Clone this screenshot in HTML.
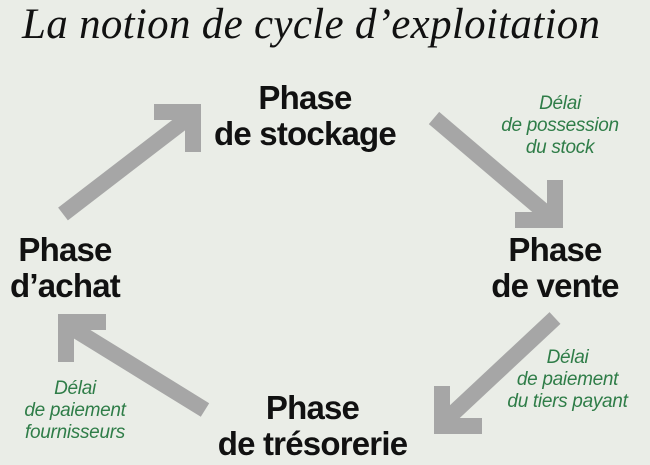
<!DOCTYPE html>
<html><head><meta charset="utf-8"><style>
html,body{margin:0;padding:0}
body{width:650px;height:465px;background:#eaede7;overflow:hidden;position:relative}
.t{position:absolute;left:22px;top:0px;font:italic 43px "Liberation Serif",serif;color:#111;letter-spacing:0.3px;white-space:nowrap}
.b{position:absolute;font:bold 33px/36px "Liberation Sans",sans-serif;color:#111;text-align:center;white-space:nowrap;letter-spacing:-0.8px}
.g{position:absolute;font:italic 19px/22px "Liberation Sans",sans-serif;color:#2f7d48;text-align:center;white-space:nowrap;letter-spacing:-0.3px}
</style></head><body>
<svg width="650" height="465" style="position:absolute;left:0;top:0">
<g fill="none" stroke="#a6a6a6" stroke-width="16" stroke-linejoin="miter" stroke-linecap="butt">
<line x1="63" y1="214" x2="188" y2="118"/><polyline points="154,112 193,112 193,152"/>
<line x1="434" y1="118" x2="547" y2="214"/><polyline points="555,180 555,220 515,220"/>
<line x1="555" y1="318" x2="448" y2="418"/><polyline points="482,426 442,426 442,386"/>
<line x1="205" y1="410" x2="72" y2="328"/><polyline points="66,362 66,322 106,322"/>
</g></svg>
<div class="t">La notion de cycle d’exploitation</div>
<div class="b" style="left:205px;width:200px;top:80px">Phase<br>de stockage</div>
<div class="b" style="left:0px;width:130px;top:232px">Phase<br>d’achat</div>
<div class="b" style="left:470px;width:170px;top:232px">Phase<br>de vente</div>
<div class="b" style="left:195px;width:235px;top:390px">Phase<br>de trésorerie</div>
<div class="g" style="left:490px;width:140px;top:93px">Délai<br>de possession<br>du stock</div>
<div class="g" style="left:490px;width:155px;top:347px">Délai<br>de paiement<br>du tiers payant</div>
<div class="g" style="left:10px;width:130px;top:378px">Délai<br>de paiement<br>fournisseurs</div>
</body></html>
